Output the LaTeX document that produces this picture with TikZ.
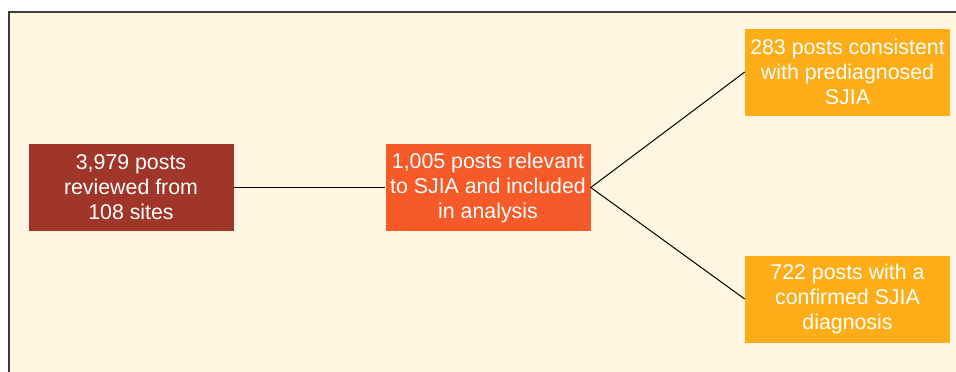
\documentclass[tikz,border=0pt]{standalone}
\usepackage{fontspec}
\setmainfont{Liberation Sans}
\definecolor{cream}{HTML}{FFF5E1}
\definecolor{frameline}{HTML}{3C3C3C}
\definecolor{brick}{HTML}{A0352A}
\definecolor{flame}{HTML}{F55A28}
\definecolor{amber}{HTML}{FDAD17}
\tikzset{
	postbox/.style={rectangle, text=white, align=center, inner sep=0pt,
		minimum width=153.75pt, minimum height=65.25pt,
		font=\fontsize{16}{18.75}\selectfont},
	link/.style={draw=black, line width=0.75pt}
}
\begin{document}
\begin{tikzpicture}[x=0.75pt,y=-0.75pt]
		\useasboundingbox (0,0) rectangle (956,371);
		\clip (0,0) rectangle (956,371);
		\draw[frameline, fill=cream, line width=1.5pt] (8.5,11.5) rectangle (970,385);
		\node[postbox, fill=brick] (sites) at (131,187.5) {3,979 posts\\reviewed from\\108 sites};
		\node[postbox, fill=flame] (relevant) at (488,187.5) {1,005 posts relevant\\to SJIA and included\\in analysis};
		\node[postbox, fill=amber] (prediag) at (847.5,72) {283 posts consistent\\with prediagnosed\\SJIA};
		\node[postbox, fill=amber] (confirmed) at (847.5,299) {722 posts with a\\confirmed SJIA\\diagnosis};
		\draw[link] (sites.east) -- (relevant.west);
		\draw[link] (relevant.east) -- (prediag.west);
		\draw[link] (relevant.east) -- (confirmed.west);
	\end{tikzpicture}
\end{document}
